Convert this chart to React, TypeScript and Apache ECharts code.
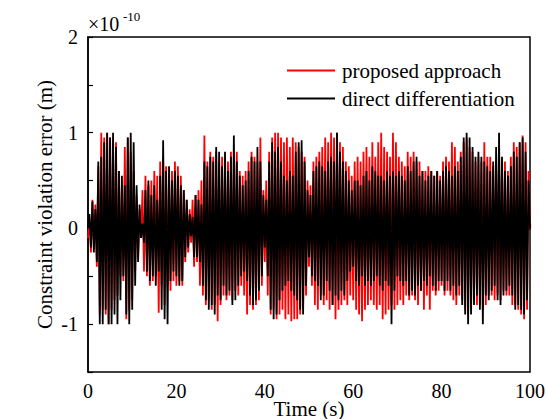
import React, { useEffect, useRef } from "react";
import * as echarts from "echarts";

// values in units of 1e-10 m, sampled every 1/3 s from 0 to 100 s
const directDifferentiation: number[] = [
  0, 0.15, -0.2, 0.28, -0.25, 0.2, -0.35, 0.7, -1.0, 0.75, -1.0, 0.9, -0.85, 1.0, -1.0, 0.95, -1.0, 1.0, -0.9, 0.85, -1.0, 0.6, -0.75, 0.55, -0.5, 0.45, -0.9, 0.95, -1.0, 1.0,
  -0.85, 0.9, -0.6, 0.45, -0.35, 0.25, -0.1, 0.05, -0.15, 0.4, -0.45, 0.5, -0.55, 0.35, -0.5, 0.45, -0.6, 0.3, -0.45, 0.55, -0.85, 0.92, -0.95, 0.6, -1.0, 0.65, -0.55, 0.5, -0.45, 0.6,
  -0.5, 0.55, -0.6, 0.45, -0.55, 0.4, -0.3, 0.3, -0.2, 0.15, -0.08, 0.12, -0.3, 0.35, -0.3, 0.3, -0.35, 0.25, -0.6, 0.7, -0.75, 0.65, -0.85, 0.75, -0.8, 0.7, -0.9, 0.85, -0.7, 0.8,
  -0.75, 0.65, -0.6, 0.8, -0.7, 0.6, -0.65, 0.75, -0.8, 0.97, -0.75, 0.7, -0.6, 0.55, -0.5, 0.45, -0.45, 0.5, -0.55, 0.6, -0.7, 0.75, -0.8, 0.7, -0.75, 0.85, -0.65, 0.7, -0.5, 0.35,
  -0.2, 0.3, -0.5, 0.7, -0.85, 0.9, -0.95, 0.8, -0.9, 0.85, -0.75, 0.7, -0.65, 0.55, -0.6, 0.5, -0.55, 0.6, -0.65, 0.55, -0.7, 0.8, -0.75, 0.9, -0.85, 0.92, -0.9, 0.7, -0.6, 0.4,
  -0.3, 0.35, -0.5, 0.6, -0.55, 0.65, -0.6, 0.7, -0.75, 0.65, -0.7, 0.6, -0.55, 0.7, -0.65, 0.75, -0.8, 0.7, -0.7, 1.0, -0.75, 0.8, -0.65, 0.7, -0.7, 0.6, -0.55, 0.5, -0.45, 0.4,
  -0.4, 0.5, -0.55, 0.5, -0.6, 0.45, -0.5, 0.55, -0.6, 0.6, -0.55, 0.5, -0.6, 0.65, -0.55, 0.6, -0.5, 0.55, -0.6, 0.55, -0.65, 0.5, -0.55, 0.6, -0.6, 0.55, -1.0, 0.6, -0.65, 0.55,
  -0.5, 0.6, -0.55, 0.55, -0.6, 0.5, -0.55, 0.65, -0.7, 0.6, -0.65, 0.7, -0.7, 0.75, -0.6, 0.55, -0.65, 0.6, -0.55, 0.5, -0.6, 0.55, -0.5, 0.6, -0.6, 0.55, -0.65, 0.6, -0.55, 0.5,
  -0.55, 0.6, -0.65, 0.65, -0.55, 0.6, -0.65, 0.55, -0.6, 0.65, -0.7, 0.6, -0.6, 0.75, -0.8, 0.95, -0.9, 1.0, -1.0, 0.95, -0.9, 0.85, -0.8, 0.75, -0.7, 0.8, -0.85, 0.75, -1.0, 0.7,
  -0.7, 0.65, -0.75, 0.6, -0.65, 0.7, -0.6, 0.85, -0.75, 1.0, -0.8, 0.75, -0.7, 0.6, -0.65, 0.55, -0.6, 0.65, -0.7, 0.8, -0.85, 0.75, -0.8, 0.9, -0.85, 0.95, -0.9, 0.8, -0.75, 0.5,
  0,
];

const proposedApproach: number[] = [
  -0.1, 0.12, -0.25, 0.3, -0.2, 0.25, -0.4, 0.65, -0.9, 1.0, -0.85, 0.95, -0.9, 1.0, -1.0, 0.95, -0.85, 0.9, -0.75, 0.9, -0.7, 0.6, -0.5, 0.45, -0.55, 0.85, -0.95, 0.95, -0.85, 0.8,
  -0.75, 0.6, -0.45, 0.35, -0.3, 0.2, -0.1, 0.4, -0.45, 0.55, -0.5, 0.45, -0.6, 0.5, -0.55, 0.6, -0.5, 0.55, -0.88, 0.7, -0.6, 0.75, -0.8, 0.65, -0.6, 0.55, -0.65, 0.6, -0.55, 0.7,
  -0.6, 0.65, -0.55, 0.55, -0.6, 0.4, -0.35, 0.3, -0.25, 0.2, -0.15, 0.3, -0.4, 0.35, -0.35, 0.4, -0.6, 0.5, -0.7, 0.97, -0.8, 0.7, -0.75, 0.8, -0.85, 0.75, -0.8, 0.8, -0.97, 0.7,
  -0.8, 0.75, -0.7, 0.6, -0.75, 0.7, -0.7, 0.8, -0.75, 0.7, -0.65, 0.8, -0.7, 0.6, -0.6, 0.55, -0.7, 0.6, -0.9, 0.7, -0.8, 0.8, -0.85, 0.75, -0.8, 0.7, -0.75, 0.95, -0.6, 0.4,
  -0.35, 0.5, -0.7, 0.8, -0.9, 0.95, -0.85, 1.0, -0.95, 1.0, -0.9, 0.95, -0.85, 0.9, -0.95, 0.95, -0.9, 0.85, -0.97, 0.95, -0.95, 0.9, -0.95, 0.85, -0.9, 0.8, -0.85, 0.75, -0.7, 0.5,
  -0.4, 0.45, -0.6, 0.7, -0.8, 0.75, -0.85, 0.8, -0.7, 0.85, -0.8, 0.95, -0.75, 0.9, -0.85, 1.0, -0.8, 0.95, -0.95, 1.0, -0.85, 0.9, -0.8, 0.85, -0.75, 0.7, -0.8, 0.65, -0.7, 0.55,
  -0.75, 0.7, -0.85, 0.75, -0.9, 0.7, -0.97, 0.8, -0.85, 0.85, -0.8, 0.75, -0.75, 0.9, -0.8, 0.75, -0.85, 0.9, -0.8, 1.0, -0.95, 0.85, -0.9, 0.8, -0.85, 0.75, -0.8, 1.0, -0.85, 0.9,
  -0.8, 0.75, -0.75, 0.7, -0.8, 0.65, -0.7, 0.8, -0.75, 0.75, -0.7, 0.8, -0.75, 0.7, -0.8, 0.7, -0.65, 0.6, -0.85, 0.6, -0.7, 0.65, -0.85, 0.6, -0.65, 0.55, -0.7, 0.6, -0.65, 0.55,
  -0.6, 0.7, -0.7, 0.75, -0.65, 0.7, -0.7, 0.9, -0.75, 0.85, -0.8, 0.7, -0.7, 0.8, -0.75, 0.9, -0.85, 0.95, -0.9, 0.85, -0.85, 0.8, -0.75, 0.7, -0.8, 0.75, -0.8, 0.7, -0.85, 0.9,
  -0.8, 0.75, -0.7, 0.75, -0.7, 0.65, -0.75, 0.7, -0.7, 0.8, -0.75, 0.7, -0.65, 0.7, -0.7, 0.6, -0.7, 0.75, -0.8, 0.9, -0.8, 0.85, -0.85, 0.9, -0.9, 0.97, -0.95, 0.9, -0.85, 0.6,
  0,
];

const X_MIN = 0;
const X_MAX = 100;
const Y_MIN = -1.5;
const Y_MAX = 2;
const yLabelValues = [2, 1, 0, -1];
const xLabelValues = [0, 20, 40, 60, 80, 100];

const FONT = "'Liberation Serif', 'Times New Roman', serif";

function toPairs(values: number[]): [number, number][] {
  const step = (X_MAX - X_MIN) / (values.length - 1);
  return values.map((v, i) => [X_MIN + i * step, v]);
}

export default function App() {
  const ref = useRef<HTMLDivElement>(null);
  useEffect(() => {
    if (!ref.current) return;
    const chart = echarts.init(ref.current, null, { renderer: "svg" });
    chart.setOption({
      animation: false,
      backgroundColor: "#ffffff",
      grid: {
        left: 88,
        right: 16,
        top: 37,
        bottom: 47,
        show: true,
        borderColor: "#000",
        borderWidth: 1.5,
        backgroundColor: "transparent",
        containLabel: false,
        outerBoundsMode: "none",
      },
      legend: {
        orient: "vertical",
        left: 287,
        top: 60,
        padding: 0,
        itemWidth: 48,
        itemHeight: 2,
        itemGap: 7,
        icon: "rect",
        textStyle: { fontFamily: FONT, fontSize: 21, color: "#000", padding: [0, 0, 0, 2] },
        data: [
          { name: "proposed approach", itemStyle: { color: "#ff0000" } },
          { name: "direct differentiation", itemStyle: { color: "#000000" } },
        ],
      },
      xAxis: {
        type: "value",
        min: X_MIN,
        max: X_MAX,
        interval: 10,
        name: "Time (s)",
        nameLocation: "middle",
        nameGap: 26,
        nameMoveOverlap: false,
        nameTextStyle: { fontFamily: FONT, fontSize: 21, color: "#000" },
        axisLine: { lineStyle: { color: "#000", width: 1.5 } },
        axisTick: { inside: true, length: 5, lineStyle: { color: "#000", width: 1.2 } },
        axisLabel: {
          fontFamily: FONT,
          fontSize: 20,
          color: "#000",
          margin: 9,
          formatter: (v: number) => (xLabelValues.includes(v) ? String(v) : ""),
        },
        splitLine: { show: false },
      },
      yAxis: {
        type: "value",
        min: Y_MIN,
        max: Y_MAX,
        interval: 0.5,
        name: "Constraint violation error (m)",
        nameLocation: "middle",
        nameGap: 33,
        nameMoveOverlap: false,
        nameTextStyle: { fontFamily: FONT, fontSize: 21, color: "#000" },
        axisLine: { lineStyle: { color: "#000", width: 1.5 } },
        axisTick: { inside: true, length: 5, lineStyle: { color: "#000", width: 1.2 } },
        axisLabel: {
          fontFamily: FONT,
          fontSize: 20,
          color: "#000",
          margin: 10,
          formatter: (v: number) => (yLabelValues.includes(v) ? String(v) : ""),
        },
        splitLine: { show: false },
      },
      graphic: [
        {
          type: "text",
          left: 88,
          top: 14,
          style: { text: "×10", fontFamily: FONT, fontSize: 20, fill: "#000" },
        },
        {
          type: "text",
          left: 123,
          top: 10,
          style: { text: "-10", fontFamily: FONT, fontSize: 13, fill: "#000" },
        },
      ],
      series: [
        {
          name: "proposed approach",
          type: "line",
          data: toPairs(proposedApproach),
          showSymbol: false,
          symbol: "none",
          lineStyle: { color: "#ff0000", width: 1.8 },
          itemStyle: { color: "#ff0000" },
          z: 2,
        },
        {
          name: "direct differentiation",
          type: "line",
          data: toPairs(directDifferentiation),
          showSymbol: false,
          symbol: "none",
          lineStyle: { color: "#000000", width: 1.8 },
          itemStyle: { color: "#000000" },
          z: 3,
        },
      ],
    });
    return () => chart.dispose();
  }, []);
  return (
    <div
      ref={ref}
      style={{ position: "fixed", left: 0, top: 0, width: 546, height: 419, background: "#fff" }}
    />
  );
}
